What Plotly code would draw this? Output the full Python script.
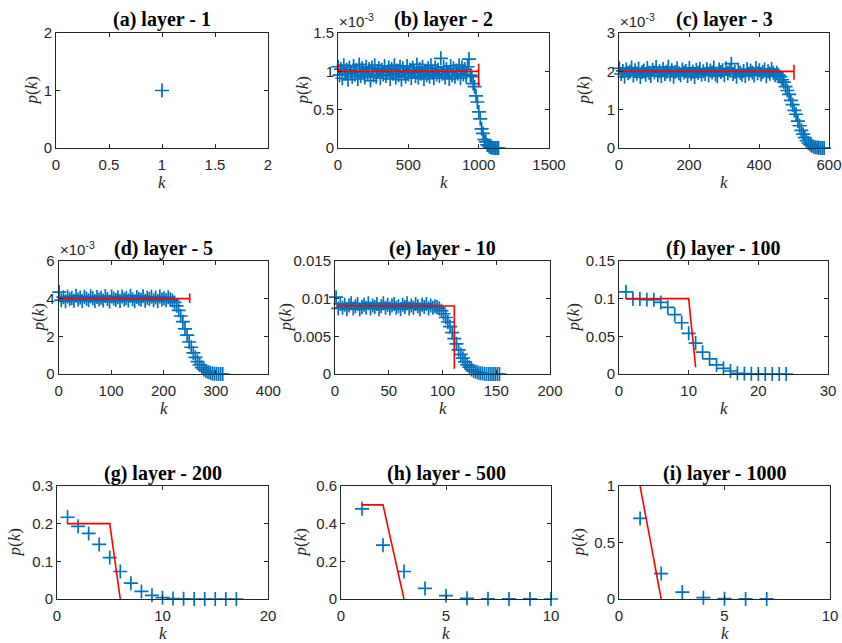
import plotly.graph_objects as go

W, H = 842, 643
OFF = 0  # body margin is removed by the post script below

# ---------------- data ----------------
# (a) layer 1
k_l1 = [1]
p_l1 = [1.0]

# (b) layer 2 -- p(k) in units of 1e-3
k_l2 = list(range(1, 1142, 10))
p_l2 = [1.06, 0.95, 1.03, 0.91, 1.08, 0.97, 1.02, 0.89, 1.05, 0.98,
        0.93, 1.07, 0.96, 1.01, 0.90, 1.09, 0.94, 1.04, 0.99, 0.92,
        1.06, 0.97, 1.03, 0.88, 1.05, 0.95, 1.08, 0.93, 1.00, 1.04,
        0.91, 1.02, 0.96, 1.07, 0.94, 0.99, 1.05, 0.90, 1.03, 0.97,
        1.08, 0.92, 1.01, 0.95, 1.06, 0.89, 1.04, 0.98, 0.93, 1.07,
        0.96, 1.02, 0.91, 1.05, 0.99, 0.94, 1.09, 0.92, 1.03, 0.97,
        1.06, 0.90, 1.01, 0.95, 1.04, 0.93, 1.08, 0.98, 0.91, 1.05,
        0.96, 1.02, 0.94, 1.17, 0.97, 1.06, 0.92, 1.03, 0.99, 0.90,
        1.07, 0.95, 1.04, 0.93, 1.01, 0.97, 1.08, 0.91, 1.05, 0.96,
        1.03, 0.94, 1.06, 1.16, 0.95, 0.93, 0.84, 0.80, 0.68, 0.60,
        0.47, 0.38, 0.25, 0.19, 0.11, 0.08, 0.04, 0.03, 0.012, 0.008,
        0.002, 0.001, 0.0, 0.0, 0.0]

# (c) layer 3 -- p(k) in units of 1e-3
k_l3 = list(range(1, 587, 5))
p_l3 = [2.08, 1.93, 2.01, 1.86, 2.05, 1.95, 1.99, 2.10, 1.89, 2.03,
        1.94, 2.07, 1.85, 1.98, 2.02, 1.91, 2.09, 1.96, 1.88, 2.04,
        1.97, 2.11, 1.90, 2.00, 1.87, 2.06, 1.93, 1.99, 2.12, 1.92,
        2.03, 1.86, 1.98, 2.08, 1.95, 1.90, 2.05, 1.97, 2.01, 1.88,
        2.09, 1.94, 1.99, 1.85, 2.04, 1.96, 2.07, 1.91, 2.00, 1.93,
        2.06, 1.89, 2.02, 1.97, 2.10, 1.92, 1.87, 2.05, 1.98, 2.03,
        1.90, 2.08, 1.95, 2.03, 2.20, 1.93, 1.99, 1.86, 2.04, 1.96,
        1.91, 2.01, 1.88, 2.06, 1.94, 2.02, 1.97, 1.89, 2.09, 1.95,
        2.03, 1.92, 1.98, 2.05, 1.87, 2.00, 1.94, 2.06, 1.96, 1.90,
        1.96, 1.90, 1.86, 1.78, 1.72, 1.60, 1.50, 1.40, 1.24, 1.13,
        0.98, 0.88, 0.70, 0.58, 0.46, 0.36, 0.27, 0.19, 0.13, 0.09,
        0.06, 0.035, 0.02, 0.01, 0.005, 0.002, 0.001, 0.0]

# (d) layer 5 -- p(k) in units of 1e-3
k_l5 = list(range(1, 314, 4))
p_l5 = [4.35, 3.92, 4.08, 3.86, 4.12, 3.97, 4.04, 3.89, 4.15, 3.95,
        4.06, 3.88, 4.10, 3.99, 3.91, 4.13, 4.02, 3.87, 4.09, 3.96,
        4.05, 3.90, 4.14, 3.98, 3.85, 4.11, 4.01, 3.93, 4.07, 3.88,
        4.12, 3.96, 4.03, 3.90, 4.16, 3.97, 3.86, 4.09, 4.00, 3.94,
        4.13, 3.89, 4.05, 3.98, 4.10, 3.92, 4.06, 3.87, 4.11, 3.95,
        4.02, 3.91, 4.08, 3.97,
        3.90, 3.80, 3.62, 3.38, 3.08, 2.78, 2.40, 2.06, 1.70, 1.42,
        1.12, 0.88, 0.66, 0.48, 0.34, 0.24, 0.16, 0.10, 0.06, 0.03,
        0.015, 0.007, 0.003, 0.001, 0.0]

# (e) layer 10
k_l10 = list(range(1, 154, 2))
p_l10 = [0.0102, 0.0087, 0.0093, 0.0088, 0.0092, 0.0086, 0.0091, 0.0094, 0.0087, 0.0090,
         0.0093, 0.0086, 0.0089, 0.0092, 0.0088, 0.0094, 0.0087, 0.0091, 0.0089, 0.0093,
         0.0086, 0.0090, 0.0094, 0.0088, 0.0092, 0.0087, 0.0091, 0.0093, 0.0088, 0.0090,
         0.0086, 0.0092, 0.0089, 0.0094, 0.0087, 0.0091, 0.0088, 0.0093, 0.0090, 0.0086,
         0.0092, 0.0089, 0.0093, 0.0087, 0.0091, 0.0088, 0.0090,
         0.0089, 0.0087, 0.0084, 0.0080, 0.0075, 0.0069, 0.0063, 0.0055, 0.0047, 0.0040,
         0.0032, 0.0026, 0.0021, 0.0016, 0.0012, 0.0009, 0.0006, 0.0004, 0.0003, 0.0002,
         0.0001, 0.0001, 0.0, 0.0, 0.0, 0.0, 0.0, 0.0, 0.0, 0.0]

# (f) layer 100
k_l100 = list(range(1, 25))
p_l100 = [0.109, 0.0996, 0.0996, 0.0987, 0.0987, 0.095, 0.0885, 0.0788, 0.068, 0.054,
          0.041, 0.029, 0.020, 0.012, 0.0075, 0.004, 0.001, 0.0005, 0.0002, 0.0001,
          0.0, 0.0, 0.0, 0.0]

# (g) layer 200
k_l200 = list(range(1, 18))
p_l200 = [0.217, 0.193, 0.174, 0.145, 0.110, 0.073, 0.042, 0.020, 0.0097, 0.0035,
          0.001, 0.0005, 0.0, 0.0, 0.0, 0.0, 0.0]

# (h) layer 500
k_l500 = list(range(1, 11))
p_l500 = [0.479, 0.286, 0.146, 0.056, 0.0175, 0.0035, 0.001, 0.0005, 0.0002, 0.0001]

# (i) layer 1000
k_l1000 = list(range(1, 8))
p_l1000 = [0.713, 0.225, 0.061, 0.012, 0.003, 0.001, 0.0005]

# red reference curves
ref_x_l1, ref_y_l1 = [], []
ref_x_l2 = [1, 1000, None, 1000, 1000, None, 1, 1]
ref_y_l2 = [1.0, 1.0, None, 0.80, 1.10, None, 1.0, 1.10]
ref_x_l3 = [1, 500, None, 500, 500, None, 1, 1]
ref_y_l3 = [2.0, 2.0, None, 1.78, 2.17, None, 2.0, 2.1]
ref_x_l5 = [1, 250, None, 250, 250]
ref_y_l5 = [4.0, 4.0, None, 3.77, 4.27]
ref_x_l10 = [1, 111, 111]
ref_y_l10 = [0.00903, 0.00903, 0.0007]
ref_x_l100 = [1, 10, 11]
ref_y_l100 = [0.1, 0.1, 0.009]
ref_x_l200 = [1, 5, 6]
ref_y_l200 = [0.2, 0.2, 0.0]
ref_x_l500 = [1, 2, 3]
ref_y_l500 = [0.5, 0.5, 0.0]
ref_x_l1000 = [1, 2]
ref_y_l1000 = [1.0, 0.0]

titles = ["(a) layer - 1", "(b) layer - 2", "(c) layer - 3",
          "(d) layer - 5", "(e) layer - 10", "(f) layer - 100",
          "(g) layer - 200", "(h) layer - 500", "(i) layer - 1000"]

x_ticks = [[0, 0.5, 1, 1.5, 2], [0, 500, 1000, 1500], [0, 200, 400, 600],
           [0, 100, 200, 300, 400], [0, 50, 100, 150, 200], [0, 10, 20, 30],
           [0, 10, 20], [0, 5, 10], [0, 5, 10]]
y_ticks = [[0, 1, 2], [0, 0.5, 1, 1.5], [0, 1, 2, 3],
           [0, 2, 4, 6], [0, 0.005, 0.01, 0.015], [0, 0.05, 0.1, 0.15],
           [0, 0.1, 0.2, 0.3], [0, 0.2, 0.4, 0.6], [0, 0.5, 1]]
exponent = [False, True, True, True, False, False, False, False, False]

series = [(k_l1, p_l1, ref_x_l1, ref_y_l1), (k_l2, p_l2, ref_x_l2, ref_y_l2),
          (k_l3, p_l3, ref_x_l3, ref_y_l3), (k_l5, p_l5, ref_x_l5, ref_y_l5),
          (k_l10, p_l10, ref_x_l10, ref_y_l10), (k_l100, p_l100, ref_x_l100, ref_y_l100),
          (k_l200, p_l200, ref_x_l200, ref_y_l200), (k_l500, p_l500, ref_x_l500, ref_y_l500),
          (k_l1000, p_l1000, ref_x_l1000, ref_y_l1000)]

# ---------------- layout geometry (screen pixels) ----------------
boxes = [(56, 268, 33, 148), (338, 549, 33, 148), (619, 829, 33, 148),
         (58.7, 268.3, 261, 374), (335, 550, 261, 374), (619, 828, 261, 374),
         (57, 268, 486, 599), (341, 551, 486, 599), (619, 830, 486, 599)]
ylab_x = [31, 302, 583, 38, 285, 573, 14, 300, 578]


def px(x):
    return (x - OFF) / W


def py(y):
    return 1 - (y - OFF) / H


BLUE = "#0072BD"
AX = "#262626"
SANS = "Liberation Sans, Arial, sans-serif"
SERIF = "Liberation Serif, Times New Roman, serif"

fig = go.Figure()
layout = dict(width=W, height=H, autosize=False,
              margin=dict(l=0, r=0, t=0, b=0, pad=0, autoexpand=False),
              paper_bgcolor="white", plot_bgcolor="white", showlegend=False)
annotations = []

for i, ((kx, pk, rx, ry), (l, r, t, b)) in enumerate(zip(series, boxes)):
    n = i + 1
    xa = "x" if n == 1 else f"x{n}"
    ya = "y" if n == 1 else f"y{n}"
    fig.add_trace(go.Scatter(x=kx, y=pk, mode="markers", xaxis=xa, yaxis=ya,
                             cliponaxis=False,
                             marker=dict(symbol="cross-thin", size=10, color=BLUE,
                                         line=dict(color=BLUE, width=1.7))))
    if rx:
        fig.add_trace(go.Scatter(x=rx, y=ry, mode="lines", xaxis=xa, yaxis=ya,
                                 line=dict(color="#FF0000", width=1.6)))
    xt, yt = x_ticks[i], y_ticks[i]
    common = dict(showline=True, mirror="ticks", linecolor=AX, linewidth=1,
                  ticks="inside", ticklen=4, tickcolor=AX, tickwidth=1,
                  showgrid=False, zeroline=False, tickmode="array", automargin=False,
                  tickfont=dict(family=SANS, size=15, color=AX))
    layout["xaxis" if n == 1 else f"xaxis{n}"] = dict(
        common, domain=[px(l), px(r)], range=[xt[0], xt[-1]], tickvals=xt,
        anchor=ya, ticklabelstandoff=3)
    layout["yaxis" if n == 1 else f"yaxis{n}"] = dict(
        common, domain=[py(b), py(t)], range=[yt[0], yt[-1]], tickvals=yt,
        anchor=xa)
    cx = (l + r) / 2
    annotations.append(dict(text="<b>" + titles[i] + "</b>", xref="paper", yref="paper",
                            x=px(cx), y=py(t - 13), xanchor="center", yanchor="middle",
                            showarrow=False, font=dict(family=SERIF, size=20, color="black")))
    annotations.append(dict(text="<i>k</i>", xref="paper", yref="paper",
                            x=px(cx), y=py(b + 34), xanchor="center", yanchor="middle",
                            showarrow=False, font=dict(family=SERIF, size=17, color=AX)))
    annotations.append(dict(text="<i>p</i>(<i>k</i>)", xref="paper", yref="paper",
                            x=px(ylab_x[i]), y=py((t + b) / 2), xanchor="center",
                            yanchor="middle", textangle=-90,
                            showarrow=False, font=dict(family=SERIF, size=17, color=AX)))
    if exponent[i]:
        annotations.append(dict(text="\u00d710<sup>-3</sup>", xref="paper", yref="paper",
                                x=px(l - 1), y=py(t - 1), xanchor="left", yanchor="bottom",
                                showarrow=False, font=dict(family=SANS, size=15, color=AX)))

layout["annotations"] = annotations
fig.update_layout(**layout)
fig.write_html("out.html",
               config={"displayModeBar": False},
               post_script="document.body.style.margin='0';"
                           "document.body.style.overflow='hidden';")
